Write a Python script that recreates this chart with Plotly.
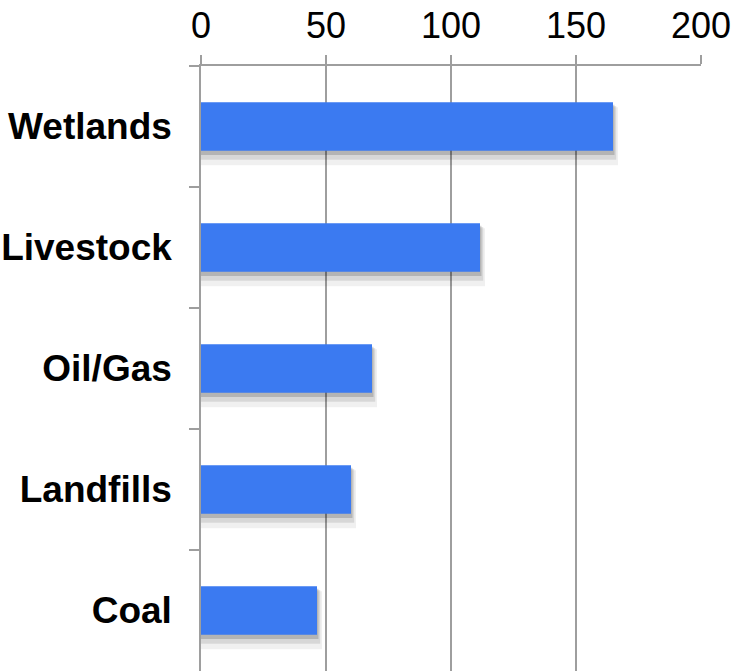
import plotly.graph_objects as go

categories = ["Wetlands", "Livestock", "Oil/Gas", "Landfills", "Coal"]
values = [164.8, 111.6, 68.4, 60.0, 46.4]
x_ticks = [0, 50, 100, 150, 200]

bar_color = "#3B7AF1"
grid_color = "#9E9E9E"

fig = go.Figure()

# soft drop shadow layers (same data, offset slightly down)
shadow_layers = [
    (-0.16, 0.48, 2.0, "rgba(0,0,0,0.06)"),
    (-0.17, 0.445, 1.3, "rgba(0,0,0,0.10)"),
    (-0.18, 0.415, 0.6, "rgba(0,0,0,0.16)"),
]
for off, wid, extra, col in shadow_layers:
    fig.add_trace(go.Bar(
        y=categories, x=[v + extra for v in values], orientation="h",
        marker=dict(color=col, line=dict(width=0)),
        offset=off, width=wid, hoverinfo="skip", showlegend=False,
    ))

fig.add_trace(go.Bar(
    y=categories, x=values, orientation="h",
    marker=dict(color=bar_color, line=dict(width=0)),
    offset=-0.2, width=0.4, showlegend=False, hoverinfo="skip",
))

fig.update_layout(
    width=737, height=671,
    margin=dict(l=201, r=36, t=66, b=0, pad=0),
    paper_bgcolor="white", plot_bgcolor="white",
    barmode="overlay",
    showlegend=False,
    font=dict(family="Helvetica, Arial, 'Liberation Sans', sans-serif", color="black"),
)

fig.update_xaxes(
    side="top", range=[0, 200], tickvals=x_ticks,
    ticktext=[str(t) for t in x_ticks],
    showgrid=True, gridcolor=grid_color, gridwidth=1.5,
    showline=True, linecolor=grid_color, linewidth=1.5,
    ticks="outside", ticklen=9, tickwidth=1.5, tickcolor=grid_color,
    tickfont=dict(size=36, color="black"),
    ticklabelstandoff=3,
    zeroline=False, fixedrange=True, automargin=False,
)

fig.update_yaxes(
    categoryorder="array", categoryarray=categories,
    autorange="reversed",
    tickson="boundaries",
    showline=True, linecolor=grid_color, linewidth=1.5,
    ticks="outside", ticklen=10, tickwidth=1.5, tickcolor=grid_color,
    tickfont=dict(size=37, color="black", weight="bold"),
    ticklabelstandoff=20,
    showgrid=False, zeroline=False, fixedrange=True, automargin=False,
)

fig.write_html("out.html")
